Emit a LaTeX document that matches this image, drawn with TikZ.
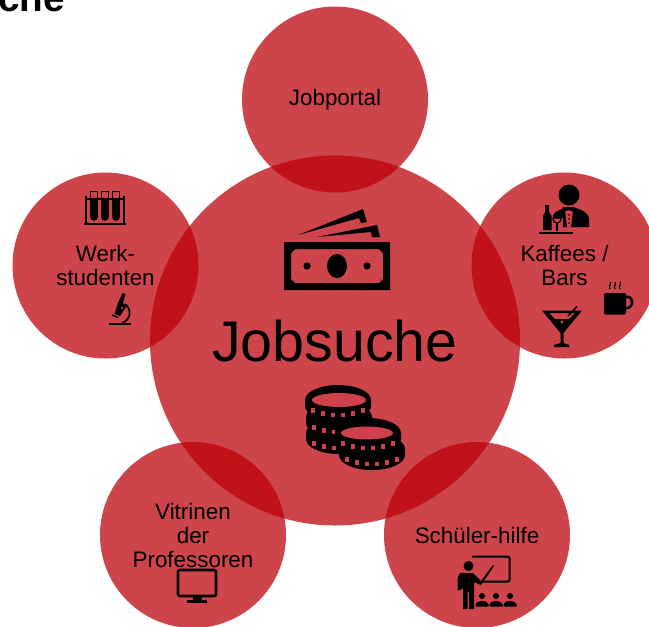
\documentclass[tikz,border=0pt]{standalone}
\usepackage{fontspec}
\setmainfont{Liberation Sans}
\definecolor{bubblered}{RGB}{188,0,9}
\definecolor{holered}{RGB}{206,64,74}
\tikzset{every picture/.style={line width=0.75pt}}
\tikzset{
  bubble/.style={circle,fill=bubblered,fill opacity=0.735,text opacity=1,inner sep=0pt,align=center,text=black,font=\fontsize{16.8}{18}\selectfont},
  smallbubble/.style={bubble,minimum size=139.5pt},
  icon/.style={fill=black,draw=none},
  iconline/.style={draw=black,line width=1.9pt,fill=none},
  hole/.style={fill=holered,draw=none}
}
% one coin of a stack, seen from the side
\newcommand{\coinside}[2]{
  \fill[icon] (#1-33,#2) -- ++(0,6) arc[start angle=180,end angle=0,x radius=33,y radius=15] -- ++(0,-6) arc[start angle=0,end angle=-180,x radius=33,y radius=15] -- cycle;
  \foreach \dx in {-25,-15,-5,5,15,25} {
    \fill[hole] ({#1+\dx-2.2},{#2+13-6*(\dx/28)*(\dx/28)}) rectangle ++(4.4,4.4);
  }
}
\begin{document}
\begin{tikzpicture}[x=0.75pt,y=0.75pt,yscale=-1,xscale=1]
        \path[use as bounding box,clip] (0,0) rectangle (649,626);

        % Text Node
        \draw (65.5,11) node (headline) [anchor=base east,inner sep=0pt,font=\bfseries\fontsize{29}{30}\selectfont] {che};

        %Shape: Circle centre
        \draw (335,340.5) node (jobsuche) [bubble,minimum size=277.5pt,font=\fontsize{43}{45}\selectfont] {Jobsuche};
        %Shape: Circle top
        \draw (335,99.5) node (jobportal) [smallbubble] {Jobportal};
        %Shape: Circle left
        \draw (105.5,265.5) node (werkstudenten) [smallbubble] {Werk-\\studenten};
        %Shape: Circle right
        \draw (564.5,265.5) node (kaffees) [smallbubble] {Kaffees /\\Bars};
        %Shape: Circle bottom left
        \draw (193,535) node (vitrinen) [smallbubble] {Vitrinen\\der\\Professoren};
        %Shape: Circle bottom right
        \draw (477,535) node (schueler) [smallbubble] {Schüler-hilfe};

        %Shape: Money notes
        \fill[icon,even odd rule] (284,242) rectangle (390,290) (295,249) -- (379,249) -- (383,253) -- (383,279) -- (379,283) -- (295,283) -- (291,279) -- (291,253) -- cycle;
        \fill[icon] (337,266) ellipse [x radius=10,y radius=12];
        \fill[icon] (307,266) circle [radius=3.6];
        \fill[icon] (367,266) circle [radius=3.6];
        \fill[icon] (298,235) -- (363,209) -- (367,222) -- (361,223) -- (359,218) -- cycle;
        \fill[icon] (317,237) -- (377,225) -- (380,237) -- (372,237) -- (371,232) -- cycle;

        %Shape: Coins
        \coinside{339}{433}
        \coinside{339}{417}
        \coinside{338}{400}
        \fill[hole] (339,400) ellipse [x radius=27,y radius=7];
        \coinside{372}{449}
        \coinside{368}{433}
        \fill[hole] (367,433) ellipse [x radius=26,y radius=6.5];

        %Shape: Test tubes
        \fill[icon] (84,222.5) rectangle (126,225);
        \draw[iconline,line width=1pt] (86,196) -- (86,223) (124,196) -- (124,223) (86,199) -- (124,199);
        \foreach \tx in {94,105,116} {
          \draw[iconline,line width=1pt] (\tx-3.5,191.5) rectangle (\tx+3.5,199);
          \fill[icon] (\tx-3.8,198) -- (\tx+3.8,198) -- (\tx+3.8,217) arc[start angle=0,end angle=180,radius=3.8] -- cycle;
        }

        %Shape: Microscope
        \fill[icon] (109,322.5) rectangle (131,325);
        \fill[icon] (122.5,293) -- (125.5,294) -- (123,303) -- (126,307) -- (120,316) -- (114.5,314) -- (118,303) -- cycle;
        \draw[iconline,line width=1.3pt] (125,304) .. controls (132,309) and (131,320) .. (122,323);
        \draw[iconline,line width=1pt] (112,315) -- (118,317.5);
        \fill[hole] (122,308) circle [radius=1.3];

        %Shape: Waiter
        \fill[icon] (569,195) circle [radius=10.5];
        \fill[icon] (553,227) -- (553,215) .. controls (555,211) and (562,209) .. (566,207) -- (573,207) .. controls (579,209) and (587,211) .. (589,218) -- (589,227) -- cycle;
        \fill[hole] (565,210) -- (573,210) -- (571,227) -- (567,227) -- cycle;
        \fill[icon] (563,206.5) -- (568.5,209) -- (574,206.5) -- (574,212) -- (568.5,210) -- (563,212) -- cycle;
        \foreach \by in {215,219,223} {
          \fill[icon] (569,\by) circle [radius=0.9];
        }
        \fill[icon] (545,205) -- (549,205) -- (549,212) -- (551.5,216) -- (551.5,230) -- (543,230) -- (543,216) -- (545,212) -- cycle;
        \fill[hole] (551.5,218) rectangle (563,231);
        \draw[iconline,line width=0.9pt] (553,218) .. controls (553,225) and (561,225) .. (561,218) -- cycle;
        \draw[iconline,line width=0.9pt] (557,224) -- (557,231);
        \fill[icon] (539,231.5) rectangle (573,233.5);

        %Shape: Martini glass
        \fill[icon,even odd rule] (542,310.5) -- (582,310.5) -- (563.5,333) -- (563.5,343) -- (569,345) -- (569,347) -- (554,347) -- (554,345) -- (560.5,343) -- (560.5,333) -- cycle (549,313) -- (575,313) -- (569,319) -- (555,319) -- cycle;
        \draw[iconline,line width=1.2pt] (568,316) -- (577,306.5);
        \fill[hole] (562,322) circle [radius=1.6];

        %Shape: Coffee cup
        \fill[icon,rounded corners=1pt] (604,293) rectangle (626,314.5);
        \draw[iconline,line width=1.9pt] (626,297) .. controls (634,295) and (634,309) .. (626,308);
        \foreach \sx in {610,615,620} {
          \draw[iconline,line width=0.9pt] (\sx,282) .. controls (\sx+2,284) and (\sx-2,286) .. (\sx,289);
        }

        %Shape: Monitor
        \draw[iconline,rounded corners=1.5pt] (178,570) rectangle (216,596);
        \fill[icon] (193,596) rectangle (202,600);
        \fill[icon] (187,600) rectangle (207,603);

        %Shape: Teacher with board
        \draw[iconline,line width=1.5pt,rounded corners=1.5pt] (472,556.5) -- (509.5,556.5) -- (509.5,581.5) -- (483,581.5);
        \fill[icon] (468.5,566) circle [radius=5];
        \fill[icon] (460,573) -- (473,573) -- (481,581) -- (493,565) -- (494,566) -- (481,585) -- (474,582) -- (474,609) -- (469,609) -- (469,592) -- (467.5,592) -- (467.5,609) -- (463,609) -- (463,588) -- (460,590) -- (457.5,590) -- (457.5,578) -- cycle;
        \foreach \px in {482,496,510} {
          \fill[icon] (\px,596) circle [radius=3];
          \fill[icon] (\px-6.5,606.5) -- (\px-6.5,604) .. controls (\px-5,600) and (\px+5,600) .. (\px+6.5,604) -- (\px+6.5,606.5) -- cycle;
        }
\end{tikzpicture}
\end{document}
